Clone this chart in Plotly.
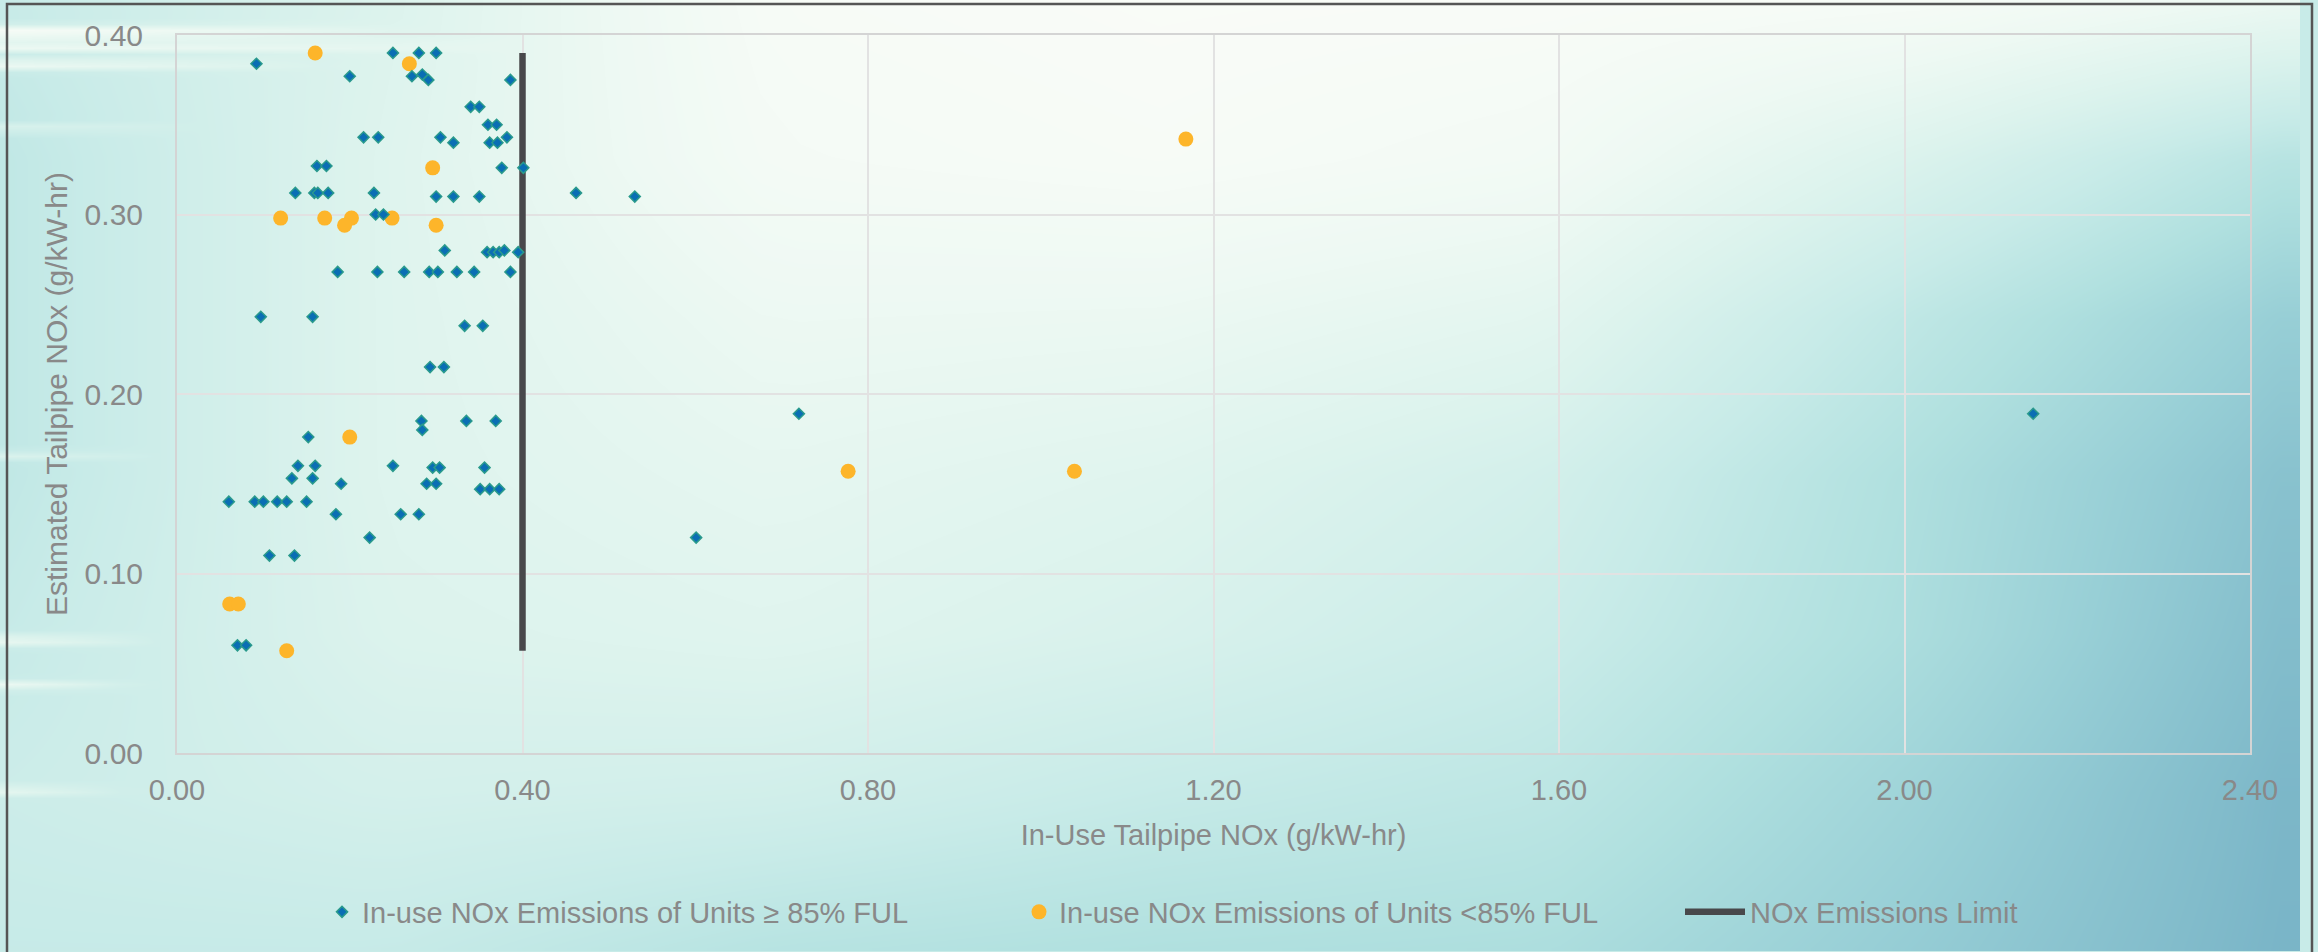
import numpy as np
import plotly.graph_objects as go

# ---------------- data ----------------
ful85_x = [0.092, 0.250, 0.280, 0.300, 0.200, 0.272, 0.284, 0.291, 0.386, 0.340,
           0.350, 0.360, 0.370, 0.216, 0.233, 0.305, 0.320, 0.362, 0.371, 0.382,
           0.162, 0.173, 0.376, 0.401, 0.137, 0.159, 0.163, 0.175, 0.228, 0.300,
           0.320, 0.350, 0.230, 0.239, 0.310, 0.359, 0.366, 0.373, 0.379, 0.395,
           0.186, 0.232, 0.263, 0.292, 0.302, 0.324, 0.344, 0.386, 0.097, 0.157,
           0.333, 0.354, 0.293, 0.309, 0.283, 0.284, 0.335, 0.369, 0.152, 0.140,
           0.160, 0.250, 0.296, 0.304, 0.356, 0.133, 0.157, 0.190, 0.289, 0.300,
           0.351, 0.362, 0.373, 0.060, 0.090, 0.100, 0.116, 0.127, 0.150, 0.184,
           0.259, 0.280, 0.223, 0.107, 0.136, 0.070, 0.080, 0.462, 0.530, 0.720,
           0.601, 2.149]
ful85_y = [0.384, 0.390, 0.390, 0.390, 0.377, 0.377, 0.378, 0.375, 0.375, 0.360,
           0.360, 0.350, 0.350, 0.343, 0.343, 0.343, 0.340, 0.340, 0.340, 0.343,
           0.327, 0.327, 0.326, 0.326, 0.312, 0.312, 0.312, 0.312, 0.312, 0.310,
           0.310, 0.310, 0.300, 0.300, 0.280, 0.279, 0.279, 0.279, 0.280, 0.279,
           0.268, 0.268, 0.268, 0.268, 0.268, 0.268, 0.268, 0.268, 0.243, 0.243,
           0.238, 0.238, 0.215, 0.215, 0.185, 0.180, 0.185, 0.185, 0.176, 0.160,
           0.160, 0.160, 0.159, 0.159, 0.159, 0.153, 0.153, 0.150, 0.150, 0.150,
           0.147, 0.147, 0.147, 0.140, 0.140, 0.140, 0.140, 0.140, 0.140, 0.133,
           0.133, 0.133, 0.120, 0.110, 0.110, 0.060, 0.060, 0.312, 0.310, 0.189,
           0.120, 0.189]

lt85_x = [0.160, 0.269, 0.296, 0.120, 0.171, 0.202, 0.194, 0.249, 0.300, 0.200,
          0.061, 0.071, 0.127, 0.777, 1.039, 1.168]
lt85_y = [0.390, 0.384, 0.326, 0.298, 0.298, 0.298, 0.294, 0.298, 0.294, 0.176,
          0.083, 0.083, 0.057, 0.157, 0.157, 0.342]

limit_x = [0.40, 0.40]
limit_y = [0.057, 0.390]

x_ticks = [0.0, 0.4, 0.8, 1.2, 1.6, 2.0, 2.4]
y_ticks = [0.0, 0.1, 0.2, 0.3, 0.4]

name_ful85 = "In-use NOx Emissions of Units \u2265 85% FUL"
name_lt85 = "In-use NOx Emissions of Units <85% FUL"
name_limit = "NOx Emissions Limit"

# ---------------- decorative background (tone field) ----------------
W, H = 2318, 952
bg_cols = [0, 386, 773, 1159, 1545, 1932, 2318]
bg_rows = [0, 159, 317, 476, 635, 793, 952]
bg_tone = [
    [0.45, 0.30, 0.05, 0.02, 0.03, 0.06, 0.18],
    [0.50, 0.28, 0.08, 0.05, 0.10, 0.32, 0.58],
    [0.50, 0.28, 0.16, 0.17, 0.24, 0.52, 0.78],
    [0.50, 0.28, 0.22, 0.27, 0.37, 0.62, 0.88],
    [0.46, 0.30, 0.27, 0.33, 0.43, 0.64, 0.92],
    [0.42, 0.36, 0.38, 0.46, 0.52, 0.72, 0.96],
    [0.46, 0.46, 0.56, 0.60, 0.62, 0.78, 0.97],
]
fx = np.arange(0, W + 1, 40)
fy = np.arange(0, H + 1, 6)
coarse = np.array(bg_tone)
tmp = np.array([np.interp(fx, bg_cols, row) for row in coarse])
field = np.array([np.interp(fy, bg_rows, tmp[:, j]) for j in range(tmp.shape[1])]).T
# light streaks (y centre, half width, x extent, strength)
streaks = [(32, 6, 420, 0.45), (46, 5, 520, 0.35), (64, 5, 330, 0.35), (128, 4, 200, 0.2),
           (455, 4, 160, 0.2), (640, 5, 160, 0.3), (685, 4, 140, 0.3), (790, 4, 130, 0.25)]
YY, XX = np.meshgrid(fy, fx, indexing="ij")
for yc, hh, xe, s in streaks:
    field -= s * np.exp(-((YY - yc) / hh) ** 2) * np.clip(1 - XX / xe, 0, 1)
field = np.clip(field, 0, 1)

bg_scale = [
    [0.0, "#fbfcf8"], [0.15, "#eef9f3"], [0.30, "#dcf3ed"], [0.45, "#c8ebe8"],
    [0.60, "#b0e0df"], [0.75, "#98cfd6"], [0.90, "#82bccb"], [1.0, "#72aec4"],
]

grey = "#898989"
font_family = "Liberation Sans, Arial, sans-serif"

fig = go.Figure()
fig.add_trace(go.Heatmap(x=fx, y=fy, z=field, colorscale=bg_scale, zmin=0, zmax=1,
                         zsmooth="best", showscale=False, hoverinfo="skip",
                         xaxis="x", yaxis="y"))

fig.add_trace(go.Scatter(x=limit_x, y=limit_y, mode="lines", name=name_limit,
                         line=dict(color="#48484b", width=6.5),
                         xaxis="x2", yaxis="y2", legend="legend3"))
fig.add_trace(go.Scatter(x=lt85_x, y=lt85_y, mode="markers", name=name_lt85,
                         marker=dict(symbol="circle", size=15, color="#fdb52a"),
                         xaxis="x2", yaxis="y2", legend="legend2"))
fig.add_trace(go.Scatter(x=ful85_x, y=ful85_y, mode="markers", name=name_ful85,
                         marker=dict(symbol="diamond", size=8.5, color="#0a6eb4",
                                     line=dict(color="#2a9a8c", width=1.5)),
                         xaxis="x2", yaxis="y2", legend="legend"))

x0p, x1p = 177, 2250
y0p, y1p = 35, 753

legend_common = dict(orientation="h", yanchor="middle", y=1 - 912 / H, xanchor="left",
                     bgcolor="rgba(0,0,0,0)", font=dict(family=font_family, size=29, color=grey))

fig.update_layout(
    width=W, height=H,
    margin=dict(l=0, r=0, t=0, b=0),
    paper_bgcolor="#c8ebe8",
    plot_bgcolor="rgba(0,0,0,0)",
    font=dict(family=font_family, color=grey),
    xaxis=dict(domain=[0, 1], range=[0, W], visible=False, fixedrange=True),
    yaxis=dict(domain=[0, 1], range=[H, 0], visible=False, fixedrange=True),
    xaxis2=dict(domain=[x0p / W, x1p / W], anchor="y2", range=[0, 2.4],
                tickvals=x_ticks, tickformat=".2f", automargin=False,
                showgrid=True, gridcolor="#e2e2e2", gridwidth=2,
                showline=True, mirror=True, linecolor="#d4d4d4", linewidth=2,
                zeroline=False, ticks="outside", ticklen=10, tickcolor="rgba(0,0,0,0)",
                tickfont=dict(size=29, color=grey),
                title=dict(text="In-Use Tailpipe NOx (g/kW-hr)", font=dict(size=29, color=grey),
                           standoff=20)),
    yaxis2=dict(domain=[1 - y1p / H, 1 - y0p / H], anchor="x2", range=[0, 0.4],
                tickvals=y_ticks, tickformat=".2f", automargin=False,
                showgrid=True, gridcolor="#e2e2e2", gridwidth=2,
                showline=True, mirror=True, linecolor="#d4d4d4", linewidth=2,
                zeroline=False, ticks="outside", ticklen=26, tickcolor="rgba(0,0,0,0)",
                tickfont=dict(size=30, color=grey),
                title=dict(text="Estimated Tailpipe NOx (g/kW-hr)", font=dict(size=30, color=grey),
                           standoff=8)),
    legend=dict(x=322 / W, **legend_common),
    legend2=dict(x=1019 / W, **legend_common),
    legend3=dict(x=1680 / W, itemwidth=60, **legend_common),
    shapes=[dict(type="rect", xref="paper", yref="paper", x0=7 / W, x1=2312 / W,
                 y0=-0.01, y1=1 - 4 / H, line=dict(color="#555555", width=2.5),
                 fillcolor="rgba(0,0,0,0)", layer="above")],
    showlegend=True,
)

fig.write_html("out.html", config={"displayModeBar": False},
               post_script="document.body.style.margin='0';document.body.style.overflow='hidden';")
